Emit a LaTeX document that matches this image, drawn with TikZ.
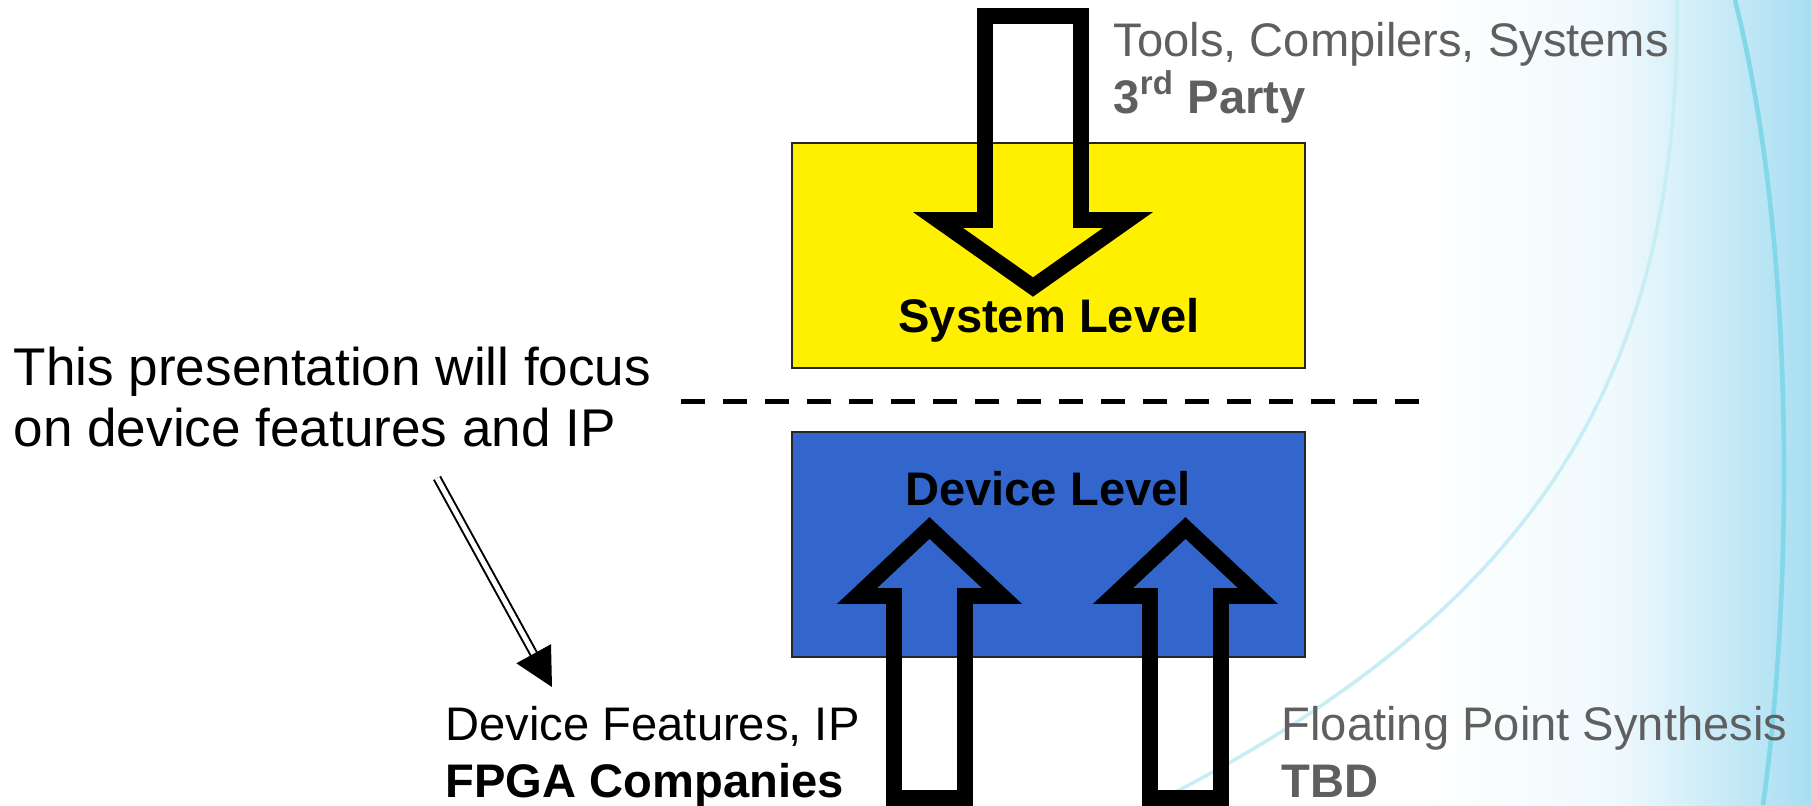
\documentclass[tikz,border=0pt]{standalone}
\usepackage{fontspec}
\setmainfont{Liberation Sans}
\usetikzlibrary{arrows.meta}
\definecolor{sysyellow}{RGB}{255,240,0}
\definecolor{devblue}{RGB}{51,102,204}
\definecolor{notegray}{RGB}{95,95,95}
\definecolor{bgblue}{RGB}{168,222,242}
\definecolor{curvecyan}{RGB}{130,215,232}

\begin{document}
\begin{tikzpicture}[x=0.01cm, y=-0.01cm,
    levelbox/.style={draw=black!85, line width=0.6pt, rectangle, minimum width=5.13cm, minimum height=2.25cm, inner sep=0pt},
    leveltext/.style={anchor=base, inner sep=0pt, font=\fontsize{13.4}{16.2}\selectfont\bfseries},
    notetext/.style={anchor=base west, inner sep=0pt, align=left, font=\fontsize{13.4}{16.2}\selectfont},
    blockarrow/.style={draw=black, line width=4.5pt, miter limit=10},
    pointer/.style={double, double distance=1.4pt, line width=0.57pt, -{Triangle[length=10.8pt, width=11.1pt]}}]
    \useasboundingbox (0,0) rectangle (1811,805);

    % Background
    \fill[white] (0,0) rectangle (1811,805);
    \shade[left color=white, right color=bgblue, middle color=white!82!bgblue] (1420,0) rectangle (1811,805);
    \draw[curvecyan!45, line width=1pt] (1677,0) .. controls (1680,350) and (1560,600) .. (1150,805);
    \draw[curvecyan, line width=1.3pt] (1735,0) .. controls (1798,250) and (1792,600) .. (1763,805);

    % Nodes
    \node[levelbox, fill=sysyellow] (sys) at (1048.5,255.5) {};
    \node[levelbox, fill=devblue] (dev) at (1048.5,544.5) {};
    \node[leveltext] (systxt) at (1049,332) {System Level};
    \node[leveltext] (devtxt) at (1048,505) {Device Level};

    % anchor base = last line
    \node[notetext, text=notegray] (tooltxt) at (1113,113) {Tools, Compilers, Systems\\\textbf{3\textsuperscript{rd} Party}};
    \node[notetext, font=\fontsize{15.1}{17.1}\selectfont] (focustxt) at (13,446) {This presentation will focus\\on device features and IP};
    \node[notetext] (feattxt) at (445,797) {Device Features, IP\\\textbf{FPGA Companies}};
    \node[notetext, text=notegray] (fptxt) at (1281,797) {Floating Point Synthesis\\\textbf{TBD}};

    % Divider
    \draw[line width=1.42pt, dash pattern=on 6.83pt off 5.12pt] (681,401) -- (1419,401);

    % Block arrows
    \draw[blockarrow] (985,16) -- (985,220) -- (938,220) -- (1033,287) -- (1128,220) -- (1081,220) -- (1081,16) -- cycle;
    \draw[blockarrow] (894,798) -- (894,596) -- (857,596) -- (929.5,528) -- (1002,596) -- (965,596) -- (965,798) -- cycle;
    \draw[blockarrow] (1150,798) -- (1150,596) -- (1113,596) -- (1185.5,528) -- (1258,596) -- (1221,596) -- (1221,798) -- cycle;

    % Arrows
    \draw[pointer] ([shift={(424,32)}]focustxt.base west) -- ([shift={(107,-110)}]feattxt.base west);
\end{tikzpicture}
\end{document}
